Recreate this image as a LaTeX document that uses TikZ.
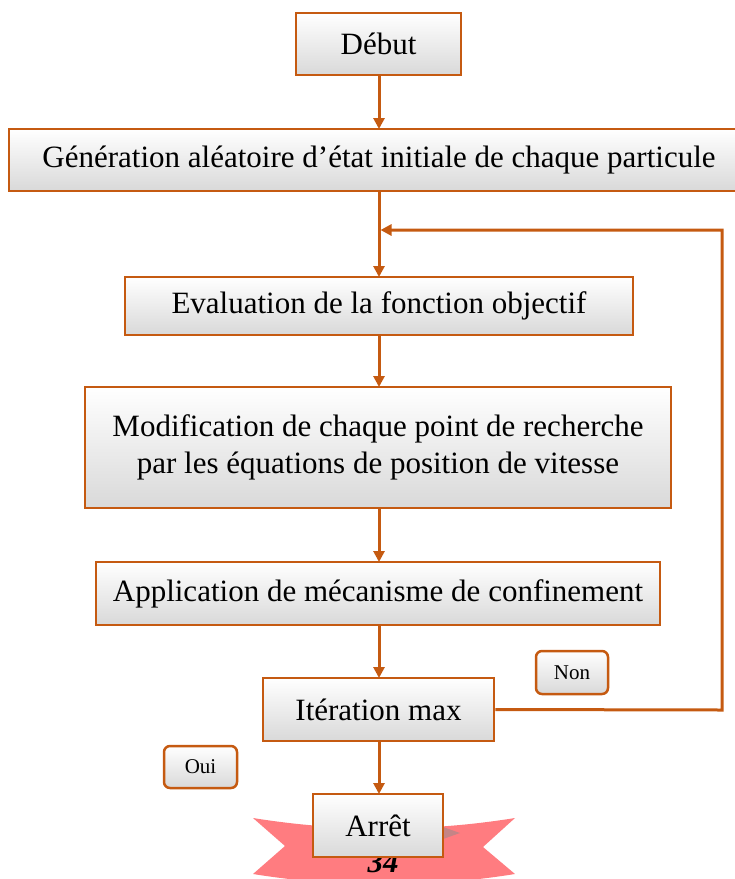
\documentclass[tikz,border=0pt]{standalone}
\usepackage{fontspec}
\setmainfont{Liberation Serif}
\usetikzlibrary{arrows.meta,shadings}
\definecolor{lnc}{RGB}{197,90,17}
\definecolor{rib}{RGB}{255,124,128}
\tikzset{
  x=1pt,y=-1pt,
  box/.style={draw=lnc,line width=2.5pt,top color=white,bottom color=black!15,
    inner sep=0pt,align=center,font=\fontsize{31}{37}\selectfont},
  tag/.style={box,rounded corners=6pt,font=\fontsize{21}{25}\selectfont},
  conn/.style={draw=lnc,line width=3pt},
  arr/.style={conn,-{Triangle[width=11pt,length=11pt]}},
}
\begin{document}
\begin{tikzpicture}
\useasboundingbox (0,0) rectangle (735,879);
% ribbon
\fill[rib] (253,818) .. controls (340,832) and (428,832) .. (515,818) -- (483,847)
  -- (515,874) .. controls (428,888) and (340,888) .. (253,874) -- (285,846) -- cycle;
\fill[black!45,opacity=0.5] (443,827) -- (460,833) -- (443,839) -- cycle;
\node[font=\fontsize{31}{37}\selectfont\bfseries\itshape,anchor=base] (pg) at (383,872) {34};
% boxes
\node[box,minimum width=165pt,minimum height=62pt] (debut) at (378.5,44) {Début};
\node[box,minimum width=740pt,minimum height=62pt] (gen) at (379,160) {Génération aléatoire d’état initiale de chaque particule};
\node[box,minimum width=508pt,minimum height=58pt] (eval) at (379,306) {Evaluation de la fonction objectif};
\node[box,minimum width=586pt,minimum height=121pt] (modif) at (378,447.5) {Modification de chaque point de recherche\\par les équations de position de vitesse};
\node[box,minimum width=564pt,minimum height=63pt] (appl) at (378,593.5) {Application de mécanisme de confinement};
\node[box,minimum width=231pt,minimum height=63pt] (iter) at (378.5,709.5) {Itération max};
\node[box,minimum width=130pt,minimum height=63pt] (arret) at (378,825.5) {Arrêt};
\node[tag,minimum width=72pt,minimum height=43pt] (non) at (572,672.5) {Non};
\node[tag,minimum width=73pt,minimum height=42pt] (oui) at (200.5,767) {Oui};
% connectors
\coordinate (j) at (379,230);
\coordinate (c1) at (722,710);
\coordinate (c2) at (722,230);
\draw[arr] (379,75) -- (379,129);
\draw[arr] (379,191) -- (379,277);
\draw[arr] (379,335) -- (379,387);
\draw[arr] (379,508) -- (379,562);
\draw[arr] (379,625) -- (379,678);
\draw[arr] (379,741) -- (379,794);
\draw[arr] (iter.east) -- (c1) -- (c2) -- ([xshift=1.5pt]j);
\end{tikzpicture}
\end{document}
